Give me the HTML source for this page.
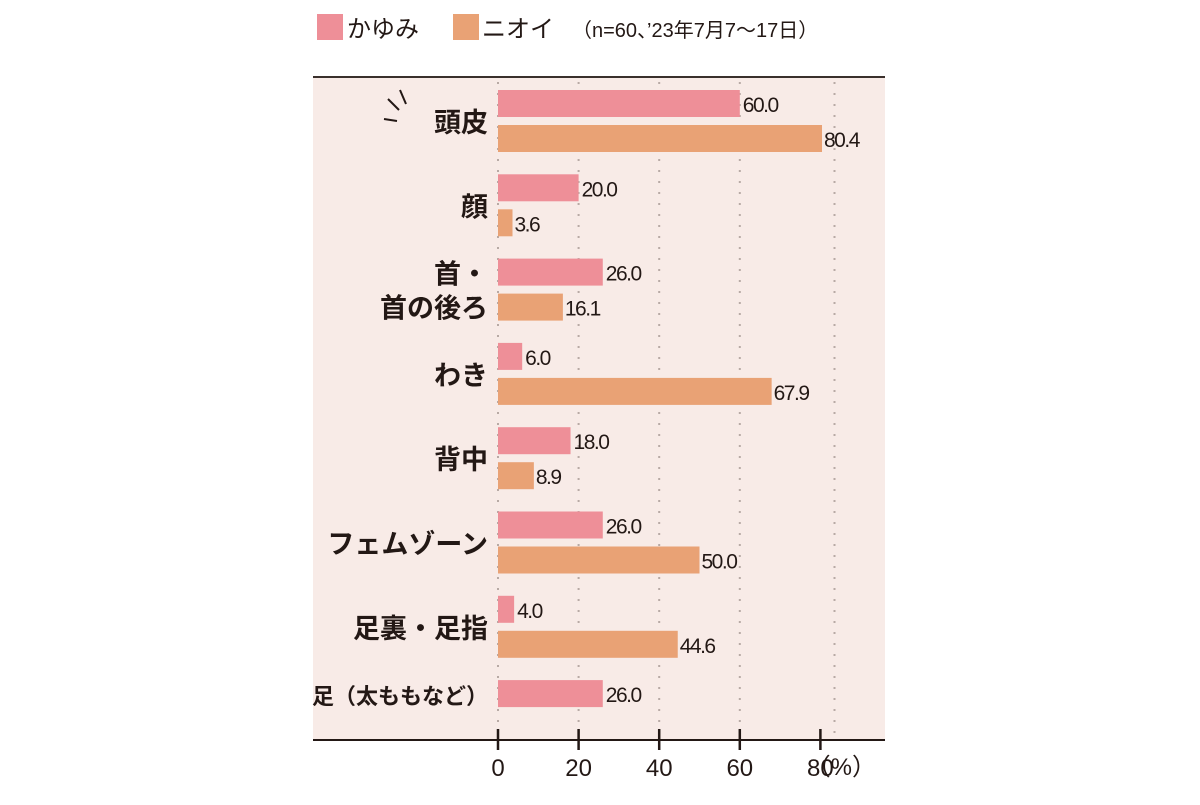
<!DOCTYPE html>
<html><head><meta charset="utf-8"><style>
body{margin:0;width:1200px;height:800px;background:#fff;overflow:hidden;font-family:"Liberation Sans","Noto Sans CJK JP",sans-serif}
</style></head><body>
<svg width="1200" height="800" id="chart">
<g>
<rect x="317" y="14" width="26" height="26" fill="#ee8f98"/>
<text x="347" y="37" font-size="24" fill="#231815" font-family="Liberation Sans, Noto Sans CJK JP, sans-serif">かゆみ</text>
<rect x="453" y="14" width="26" height="26" fill="#e9a275"/>
<text x="482" y="37" font-size="24" fill="#231815" font-family="Liberation Sans, Noto Sans CJK JP, sans-serif">ニオイ</text>
<text x="572" y="37" font-size="20" fill="#231815" font-family="Liberation Sans, Noto Sans CJK JP, sans-serif">（n=60、’23年7月7～17日）</text>
</g>
<rect x="313" y="77" width="572" height="663" fill="#f8ebe7"/>
<line x1="313" y1="77" x2="885" y2="77" stroke="#3a302c" stroke-width="2"/>
<g id="grid"></g><g id="bars"></g>
<path d="M400 90 L406 104 M388 99 L399 110 M384 119 L397 121" stroke="#231815" stroke-width="2" fill="none"/>
<line x1="313" y1="740" x2="885" y2="740" stroke="#231815" stroke-width="2"/>
<g id="axis"></g>
<text x="876" y="775" font-size="24" fill="#231815" text-anchor="end">（%）</text>
</svg>
<script>
const categories=[["頭皮"],["顔"],["首・","首の後ろ"],["わき"],["背中"],["フェムゾーン"],["足裏・足指"],["足（太ももなど）"]];
const kayumi=[60.0,20.0,26.0,6.0,18.0,26.0,4.0,26.0];
const nioi=[80.4,3.6,16.1,67.9,8.9,50.0,44.6,null];
const kayumiLabels=["60.0","20.0","26.0","6.0","18.0","26.0","4.0","26.0"];
const nioiLabels=["80.4","3.6","16.1","67.9","8.9","50.0","44.6",""];
const ticks=[0,20,40,60,80];
const NS="http://www.w3.org/2000/svg";
const x=v=>498+v*4.03;
const gy=i=>90+i*84.3;
function mk(tag,attrs,parent){const e=document.createElementNS(NS,tag);for(const k in attrs)e.setAttribute(k,attrs[k]);parent.appendChild(e);return e;}
const grid=document.getElementById('grid'),bars=document.getElementById('bars'),axis=document.getElementById('axis');
[0,20,40,60,83.5].forEach(v=>{const l=mk('line',{x1:x(v),x2:x(v),y1:82,y2:735,stroke:'#b8aaa5','stroke-width':2,'stroke-dasharray':'2 9'},grid);

});
ticks.forEach(t=>{const l=mk('line',{x1:x(t),x2:x(t),y1:729,y2:750,stroke:'#231815','stroke-width':2.5},axis);


const tx=mk('text',{x:x(t),y:776,'font-size':24,'text-anchor':'middle',fill:'#231815'},axis);tx.textContent=t;

});
categories.forEach((c,i)=>{const y0=gy(i);
const hasN=nioi[i]!==null;
const cy=hasN?y0+32:y0+14;
c.forEach((line,j)=>{const t=mk('text',{x:488,y:cy+10+(j-(c.length-1)/2)*34,'font-size':line.length>6?22:27,'font-weight':'bold','text-anchor':'end',fill:'#231815'},bars);t.textContent=line;

});
const r=mk('rect',{x:x(0),y:y0,width:x(kayumi[i])-x(0),height:27,fill:'#ee8f98'},bars);


const vt=mk('text',{x:x(kayumi[i])+3,y:y0+22,'font-size':21,'letter-spacing':-1.5,fill:'#231815'},bars);vt.textContent=kayumiLabels[i];


if(hasN){const r2=mk('rect',{x:x(0),y:y0+35,width:x(nioi[i])-x(0),height:27,fill:'#e9a275'},bars);


const v2=mk('text',{x:x(nioi[i])+2,y:y0+57,'font-size':21,'letter-spacing':-1.5,fill:'#231815'},bars);v2.textContent=nioiLabels[i];

}
});
</script>
</body></html>
